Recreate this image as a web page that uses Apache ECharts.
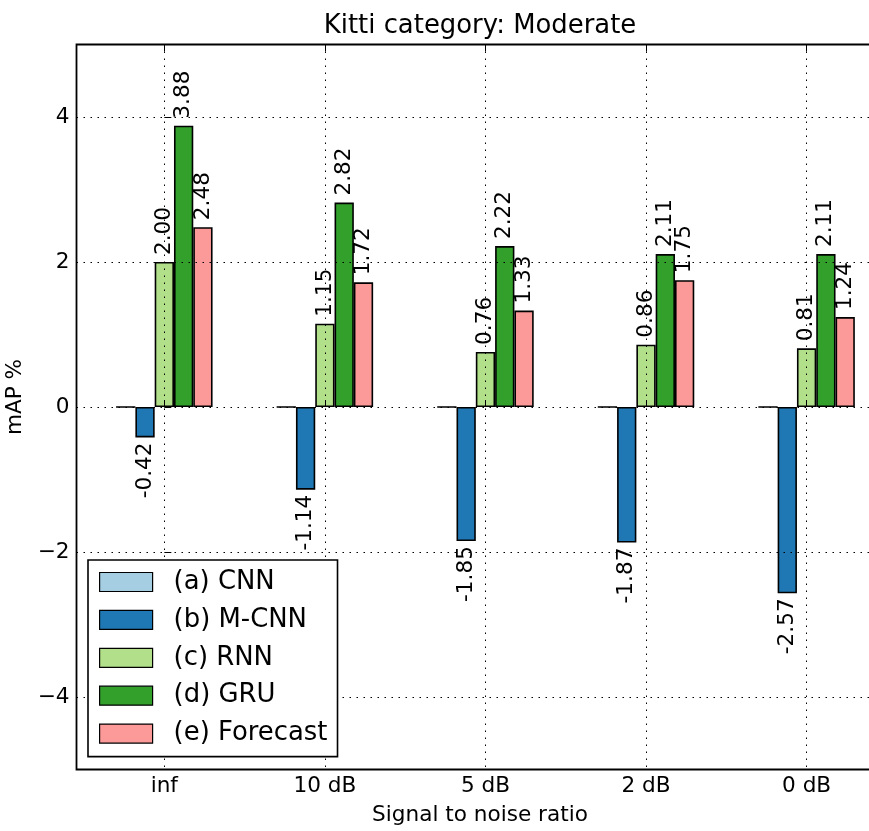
<!DOCTYPE html>
<html><head><meta charset="utf-8">
<script src="https://cdn.jsdelivr.net/npm/echarts@6/dist/echarts.min.js"></script>
<style>html,body{margin:0;padding:0;background:#fff}#c{width:869px;height:831px}</style>
</head><body><div id="c"></div>
<script>
const categories = ['inf', '10 dB', '5 dB', '2 dB', '0 dB'];
const seriesNames = ['(a) CNN', '(b) M-CNN', '(c) RNN', '(d) GRU', '(e) Forecast'];
const cnn = [0, 0, 0, 0, 0];
const mcnn = [-0.42, -1.14, -1.85, -1.87, -2.57];
const rnn = [2.00, 1.15, 0.76, 0.86, 0.81];
const gru = [3.88, 2.82, 2.22, 2.11, 2.11];
const forecast = [2.48, 1.72, 1.33, 1.75, 1.24];
const yTicks = [-4, -2, 0, 2, 4];
const xTicks = [0, 1, 2, 3, 4];
const colors = ['#a6cee3', '#1f78b4', '#b2df8a', '#33a02c', '#fb9a99'];

const FONT = 'DejaVu Sans';
const BASE = 21.6, LARGE = 25.9;
const allValues = [cnn, mcnn, rnn, gru, forecast];
const showLabels = [false, true, true, true, true];

function makeSeries(idx) {
  const vals = allValues[idx];
  return {
    name: seriesNames[idx],
    type: 'bar',
    barWidth: 19.3,
    barGap: '0%',
    z: 2,
    itemStyle: { color: colors[idx], borderColor: '#000', borderWidth: 1.6 },
    data: vals.map((v, i) => ({
      value: [i, v],
      label: {
        show: showLabels[idx],
        position: v >= 0 ? 'top' : 'bottom',
        align: v >= 0 ? 'left' : 'right',
        verticalAlign: 'middle',
        rotate: 90,
        distance: v >= 0 ? 7 : 5,
        fontFamily: FONT,
        fontSize: BASE,
        color: '#000',
        formatter: () => v.toFixed(2)
      }
    }))
  };
}

const chart = echarts.init(document.getElementById('c'), null, { renderer: 'canvas' });
const tickStyle = { show: true, inside: true, length: 7, lineStyle: { color: '#000', width: 1 } };
const gridLine = { show: true, lineStyle: { color: '#000', width: 1, type: [1.5, 5.5] } };

chart.setOption({
  animation: false,
  backgroundColor: '#fff',
  title: {
    text: 'Kitti category: Moderate',
    left: 480, top: 13, textAlign: 'center', padding: 0,
    textStyle: { fontFamily: FONT, fontSize: LARGE, fontWeight: 'normal', color: '#000' }
  },
  grid: {
    left: 76.5, top: 44.5, width: 807, height: 725,
    outerBoundsMode: 'none', containLabel: false,
    show: true, borderColor: '#000', borderWidth: 1.8, backgroundColor: 'transparent'
  },
  legend: {
    orient: 'vertical', left: 88, top: 560,
    padding: [9, 10, 10, 11],
    backgroundColor: '#fff', borderColor: '#000', borderWidth: 1.6,
    itemWidth: 53, itemHeight: 19, itemGap: 11.9,
    icon: 'rect',
    itemStyle: { borderColor: '#000', borderWidth: 1.2 },
    textStyle: { fontFamily: FONT, fontSize: LARGE, color: '#000', padding: [0, 0, 0, 16] },
    data: seriesNames,
    z: 10
  },
  xAxis: [{
    type: 'value', position: 'bottom', min: -0.547, max: 4.479, z: 5,
    axisLine: { show: false },
    axisTick: Object.assign({ customValues: xTicks }, tickStyle),
    axisLabel: { customValues: xTicks, formatter: v => categories[v], fontFamily: FONT, fontSize: BASE, color: '#000', margin: 6 },
    splitLine: gridLine,
    name: 'Signal to noise ratio', nameLocation: 'middle', nameGap: 35,
    nameTextStyle: { fontFamily: FONT, fontSize: BASE, color: '#000' }
  }, {
    type: 'value', position: 'top', min: -0.547, max: 4.479, z: 5,
    axisLine: { show: false },
    axisTick: Object.assign({ customValues: xTicks }, tickStyle),
    axisLabel: { show: false },
    splitLine: { show: false }
  }],
  yAxis: [{
    type: 'value', min: -5, max: 5, z: 5,
    axisLine: { show: false },
    axisTick: Object.assign({ customValues: yTicks }, tickStyle),
    axisLabel: { customValues: yTicks, formatter: v => String(v).replace('-', '\u2212'), fontFamily: FONT, fontSize: BASE, color: '#000', margin: 7 },
    splitLine: gridLine,
    name: 'mAP %', nameLocation: 'middle', nameGap: 41,
    nameTextStyle: { fontFamily: FONT, fontSize: BASE, color: '#000', padding: [0, 0, 0, 20] }
  }],
  series: allValues.map((_, i) => makeSeries(i))
});
</script></body></html>
